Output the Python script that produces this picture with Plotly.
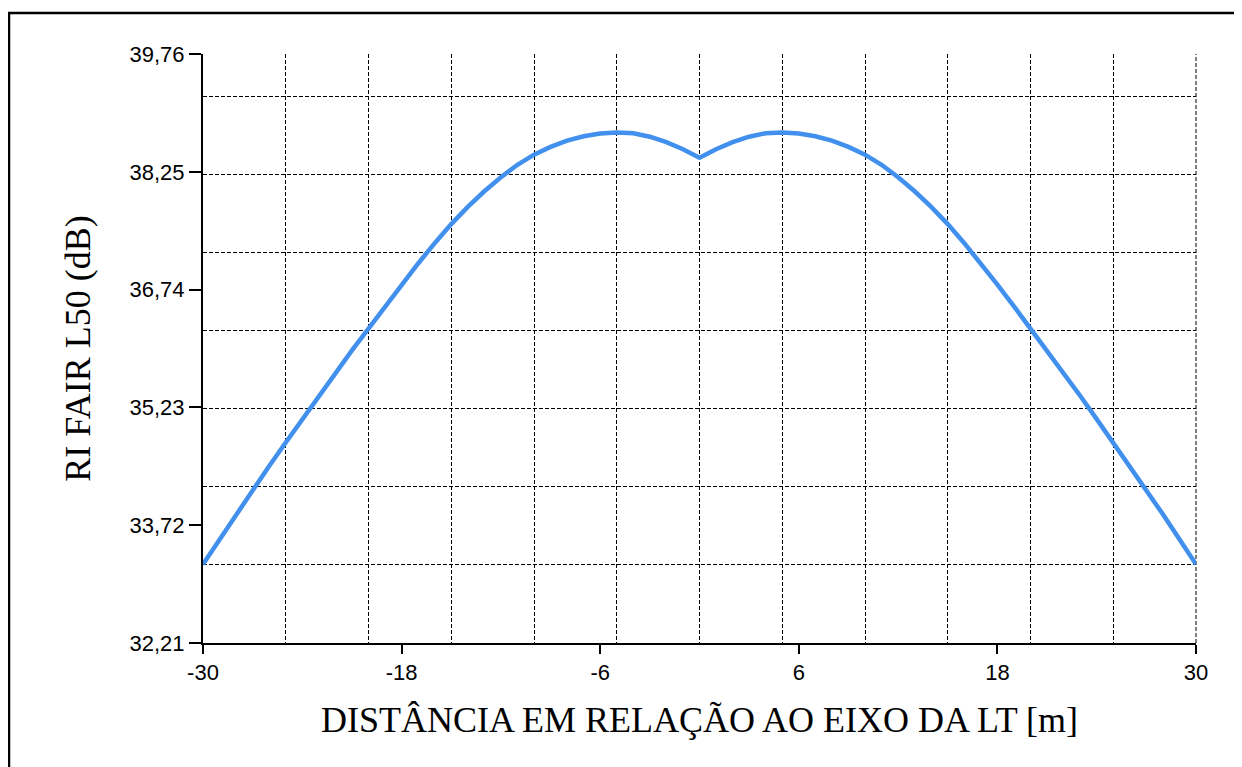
import plotly.graph_objects as go

# Data
distance_m = [-30, -29, -28, -27, -26, -25, -24, -23, -22, -21, -20, -19, -18, -17, -16,
              -15, -14, -13, -12, -11, -10, -9, -8, -7, -6, -5, -4, -3, -2, -1, 0,
              1, 2, 3, 4, 5, 6, 7, 8, 9, 10, 11, 12, 13, 14, 15, 16, 17, 18, 19, 20,
              21, 22, 23, 24, 25, 26, 27, 28, 29, 30]
ri_db = [33.22, 33.54, 33.86, 34.17, 34.48, 34.78, 35.08, 35.38, 35.67, 35.96, 36.24,
         36.525, 36.805, 37.075, 37.335, 37.58, 37.80, 38.00, 38.18, 38.34, 38.47,
         38.57, 38.65, 38.705, 38.74, 38.755, 38.745, 38.70, 38.63, 38.54, 38.43,
         38.54, 38.63, 38.70, 38.745, 38.755, 38.74, 38.705, 38.65, 38.57, 38.47,
         38.34, 38.18, 38.00, 37.80, 37.58, 37.335, 37.075, 36.805, 36.525, 36.24,
         35.96, 35.67, 35.38, 35.08, 34.78, 34.48, 34.17, 33.86, 33.54, 33.22]

x_tickvals = [-30, -18, -6, 6, 18, 30]
x_ticktext = ["-30", "-18", "-6", "6", "18", "30"]
y_tickvals = [32.21, 33.72, 35.23, 36.74, 38.25, 39.76]
y_ticktext = ["32,21", "33,72", "35,23", "36,74", "38,25", "39,76"]
x_gridvals = [-25, -20, -15, -10, -5, 0, 5, 10, 15, 20, 25]
y_gridvals = [33.21, 34.21, 35.21, 36.21, 37.21, 38.21, 39.21]

x_title = "DISTÂNCIA EM RELAÇÃO AO EIXO DA LT [m]"
y_title = "RI FAIR L50 (dB)"

# page body has an 8px margin, so the figure is offset by (8, 8) on screen
W, H = 1242, 767
L, R, T, B = 195, 54, 46, 132
pw, ph = W - L - R, H - T - B

fig = go.Figure()
fig.add_trace(go.Scatter(x=distance_m, y=ri_db, mode="lines",
                         line=dict(color="#4290ee", width=4.5), showlegend=False,
                         hoverinfo="x+y"))

tickfont = dict(family="Liberation Sans, Arial, sans-serif", size=22, color="black")
titlefont = dict(family="Liberation Serif, Times New Roman, serif", size=36, color="black")
dash = "4px,2px"

fig.update_layout(
    xaxis=dict(range=[-30, 30], tickmode="array", tickvals=x_tickvals, ticktext=x_ticktext,
               showgrid=False, zeroline=False, showline=True, linecolor="black", linewidth=2,
               ticks="outside", ticklen=9, tickwidth=1.5, tickcolor="black", tickfont=tickfont,
               minor=dict(tickmode="array", tickvals=x_gridvals, showgrid=True,
                          gridcolor="black", gridwidth=1, griddash=dash, ticklen=0),
               title=dict(text=x_title, font=titlefont, standoff=22)),
    yaxis=dict(range=[32.21, 39.76], tickmode="array", tickvals=y_tickvals, ticktext=y_ticktext,
               showgrid=False, zeroline=False, showline=True, linecolor="black", linewidth=2,
               ticks="outside", ticklen=12, tickwidth=1.5, tickcolor="black", tickfont=tickfont,
               minor=dict(tickmode="array", tickvals=y_gridvals, showgrid=True,
                          gridcolor="black", gridwidth=1, griddash=dash, ticklen=0),
               title=dict(text=y_title, font=titlefont, standoff=28)),
)

# dashed right edge of the grid
fig.add_shape(type="line", xref="paper", yref="paper", x0=1, x1=1, y0=0, y1=1,
              line=dict(color="black", width=1, dash=dash), layer="below")

# outer frame
fig.add_shape(type="rect", xref="paper", yref="paper",
              x0=(1 - L) / pw, x1=(W + 20 - L) / pw,
              y0=1 - (H + 20 - T) / ph, y1=1 + (T - 5) / ph,
              line=dict(color="black", width=2.5), fillcolor="rgba(0,0,0,0)", layer="below")

fig.update_layout(width=W, height=H, margin=dict(l=L, r=R, t=T, b=B, autoexpand=False),
                  paper_bgcolor="white", plot_bgcolor="white", showlegend=False)

fig.write_html("out.html")
